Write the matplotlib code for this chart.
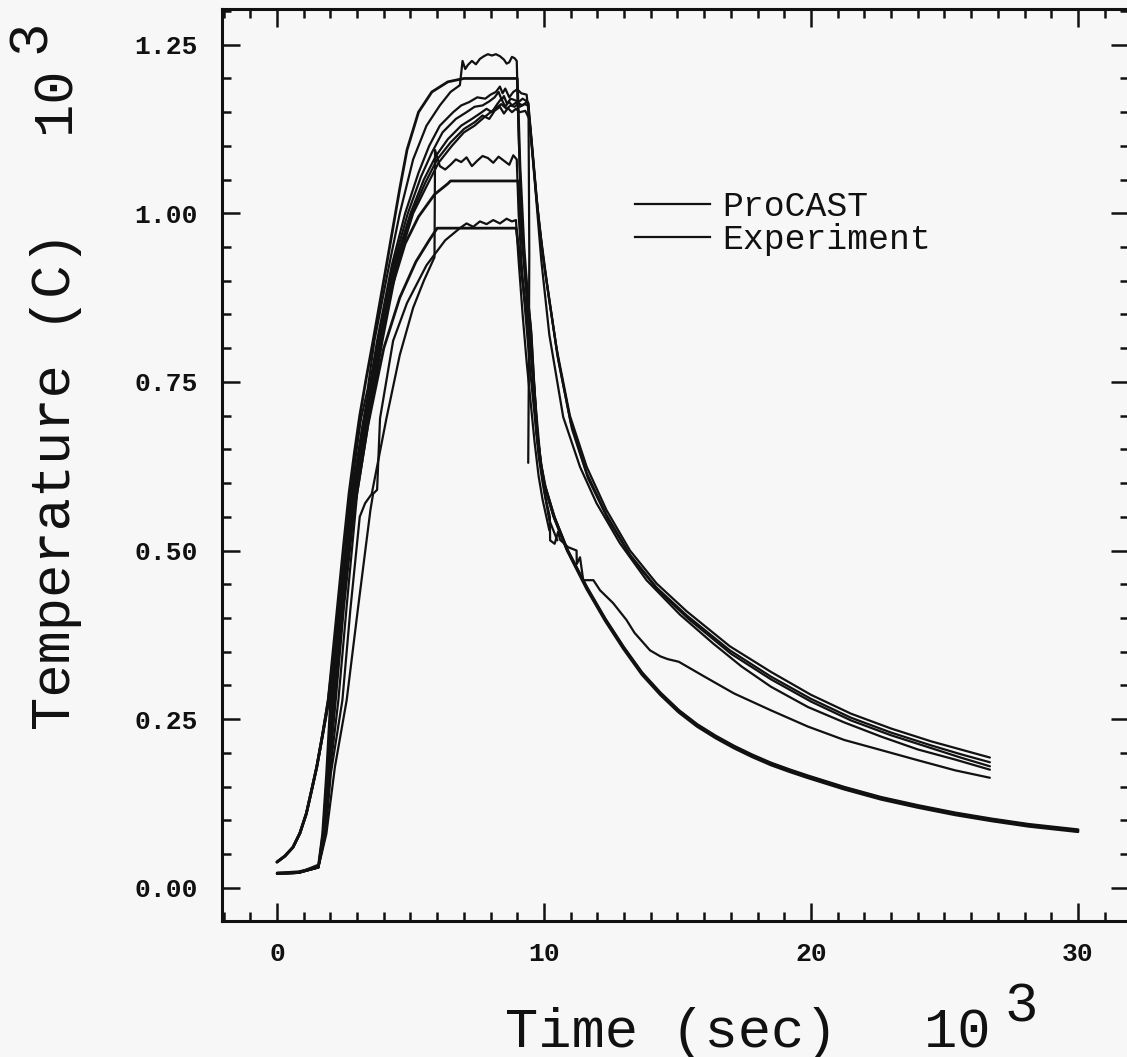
import matplotlib
matplotlib.use("Agg")
import matplotlib.pyplot as plt
from matplotlib.ticker import MultipleLocator, FixedLocator
from matplotlib.lines import Line2D

# ---------------- data: time in 10^3 s, temperature in 10^3 C ----------------
# common cooling tail read off the fast (ProCAST) curve
fast_tail_t = [10.85, 11.6, 12.29, 12.98, 13.67, 14.36, 15.05, 15.74, 16.43, 17.12, 17.8, 18.5, 19.2, 19.88,
               21.25, 22.63, 24.0, 25.4, 26.77, 28.15, 30.0]
fast_tail_v = [0.503, 0.445, 0.398, 0.356, 0.318, 0.288, 0.262, 0.241, 0.224, 0.209, 0.196, 0.184, 0.174, 0.165,
               0.148, 0.133, 0.121, 0.110, 0.101, 0.093, 0.085]

# ProCAST (smooth) curves
sim_top_t = [0, 0.3, 0.6, 0.86, 1.1, 1.3, 1.49, 1.7, 1.92, 2.1, 2.3, 2.5, 2.7, 2.9, 3.1, 3.35, 3.6, 3.85, 4.1,
             4.35, 4.6, 4.87, 5.3, 5.8, 6.4, 7.0, 9.0, 9.1, 9.25, 9.4, 9.5, 9.6, 9.72, 9.85, 10.0, 10.35] + fast_tail_t
sim_top_v = [0.038, 0.047, 0.06, 0.081, 0.11, 0.145, 0.179, 0.225, 0.278, 0.35, 0.43, 0.51, 0.585, 0.645, 0.70,
             0.757, 0.811, 0.867, 0.923, 0.98, 1.037, 1.094, 1.15, 1.18, 1.195, 1.2, 1.2, 1.07, 0.95, 0.87, 0.83,
             0.76, 0.68, 0.635, 0.60, 0.553] + fast_tail_v

sim_mid_t = [0, 0.3, 0.6, 0.86, 1.1, 1.3, 1.49, 1.7, 1.92, 2.12, 2.35, 2.55, 2.8, 3.2, 3.75, 4.3, 4.8, 5.3, 5.9,
             6.4, 6.5, 9.03, 9.12, 9.27, 9.42, 9.52, 9.62, 9.74, 9.87, 10.02, 10.37, 10.87, 11.6, 12.29, 12.98,
             13.67, 14.36, 15.05, 15.74, 16.43, 17.12, 17.8, 18.5, 19.2, 19.88, 21.25, 22.63, 24.0, 25.4, 26.77,
             28.15, 30.0]
sim_mid_v = [0.038, 0.047, 0.06, 0.081, 0.11, 0.145, 0.179, 0.225, 0.278, 0.345, 0.42, 0.49, 0.57, 0.68, 0.80,
             0.89, 0.955, 0.995, 1.028, 1.044, 1.048, 1.048, 0.99, 0.92, 0.86, 0.82, 0.75, 0.675, 0.63, 0.597,
             0.55, 0.50, 0.443, 0.396, 0.354, 0.316, 0.286, 0.260, 0.239, 0.222, 0.207, 0.194, 0.182, 0.172,
             0.163, 0.146, 0.131, 0.119, 0.108, 0.099, 0.091, 0.083]

sim_low_t = [0, 0.3, 0.6, 0.86, 1.1, 1.3, 1.49, 1.7, 1.95, 2.15, 2.35, 2.6, 2.95, 3.4, 4.0, 4.6, 5.2, 5.7, 6.0,
             8.96, 9.05, 9.2, 9.35, 9.5, 9.62, 9.75, 9.9, 10.05, 10.4, 10.9, 11.6, 12.29, 12.98, 13.67, 14.36,
             15.05, 15.74, 16.43, 17.12, 17.8, 18.5, 19.2, 19.88, 21.25, 22.63, 24.0, 25.4, 26.77, 28.15, 30.0]
sim_low_v = [0.038, 0.047, 0.06, 0.081, 0.11, 0.145, 0.179, 0.225, 0.278, 0.34, 0.405, 0.48, 0.575, 0.685,
             0.80, 0.875, 0.928, 0.96, 0.978, 0.978, 0.95, 0.90, 0.85, 0.80, 0.74, 0.67, 0.625, 0.594, 0.548,
             0.499, 0.446, 0.399, 0.357, 0.319, 0.289, 0.263, 0.242, 0.225, 0.210, 0.197, 0.185, 0.175, 0.166,
             0.149, 0.134, 0.122, 0.111, 0.102, 0.094, 0.086]

# Experiment (measured) curves
exp_a_t = [0, 0.8, 1.55, 1.7, 1.85, 2.0, 2.3, 2.5, 2.75, 3.15, 3.4, 3.65, 4.2, 4.6, 5.1, 5.6, 6.1, 6.5, 6.85,
           6.95, 7.05, 7.15, 7.3, 7.45, 7.6, 7.75, 7.9, 8.05, 8.2, 8.35, 8.5, 8.6, 8.7, 8.8, 8.9, 8.98, 9.05,
           9.15, 9.3, 9.45, 9.6, 9.7, 9.8, 9.9, 10.05, 10.22, 10.23, 10.4, 10.53, 10.6, 10.9, 11.22,
           11.23, 11.35, 11.47, 11.85, 12.1, 12.59, 13.09, 13.39, 13.97, 14.36, 14.63, 15.05, 16.01, 17.12,
           18.5, 19.88, 21.25, 22.63, 24.0, 25.4, 26.7]
exp_a_v = [0.021, 0.022, 0.034, 0.08, 0.17, 0.278, 0.413, 0.48, 0.584, 0.696, 0.74, 0.811, 0.923, 1.0, 1.08,
           1.13, 1.16, 1.18, 1.19, 1.226, 1.214, 1.22, 1.226, 1.221, 1.229, 1.233, 1.236, 1.234, 1.236, 1.233,
           1.228, 1.222, 1.224, 1.232, 1.23, 1.226, 1.12, 1.0, 0.9, 0.83, 0.76, 0.71, 0.665, 0.62, 0.58,
           0.55, 0.515, 0.51, 0.528, 0.516, 0.505, 0.50, 0.48, 0.49, 0.456, 0.456, 0.441, 0.422, 0.397, 0.378,
           0.352, 0.343, 0.339, 0.335, 0.313, 0.288, 0.263, 0.239, 0.219, 0.204, 0.189, 0.174, 0.163]

exp_b_t = [0, 0.8, 1.55, 1.72, 1.88, 2.05, 2.35, 2.8, 3.25, 3.5, 3.75, 4.3, 4.8, 5.3, 5.7, 6.1, 6.6, 6.9, 7.2,
           7.5, 7.8, 8.0, 8.2, 8.35, 8.45, 8.55, 8.7, 8.85, 9.0, 9.15, 9.35, 9.5, 9.7, 9.9, 10.1, 10.47, 10.97,
           11.6, 12.34, 13.22, 14.22, 15.34, 16.96, 18.5, 20.0, 21.5, 23.0, 24.5, 25.6, 26.7]
exp_b_v = [0.022, 0.023, 0.032, 0.08, 0.17, 0.278, 0.413, 0.584, 0.696, 0.75, 0.811, 0.923, 1.0, 1.06, 1.1, 1.13,
           1.15, 1.16, 1.165, 1.172, 1.17, 1.176, 1.18, 1.188, 1.178, 1.185, 1.172, 1.18, 1.184, 1.178, 1.176,
           1.12, 1.03, 0.96, 0.90, 0.80, 0.70, 0.624, 0.56, 0.50, 0.451, 0.41, 0.358, 0.32, 0.286, 0.258,
           0.236, 0.217, 0.205, 0.193]

exp_c_t = [0, 0.8, 1.55, 1.74, 1.9, 2.1, 2.4, 2.85, 3.3, 3.8, 4.35, 4.9, 5.4, 5.8, 6.2, 6.7, 7.1, 7.4, 7.7, 7.95,
           8.15, 8.3, 8.42, 8.5, 8.62, 8.75, 8.9, 9.05, 9.2, 9.4, 9.55, 9.75, 9.95, 10.15, 10.5, 11.0, 11.6,
           12.34, 13.22, 14.22, 15.34, 16.96, 18.5, 20.0, 21.5, 23.0, 24.5, 25.6, 26.7]
exp_c_v = [0.022, 0.024, 0.03, 0.08, 0.17, 0.278, 0.413, 0.584, 0.696, 0.811, 0.923, 1.0, 1.055, 1.09, 1.12,
           1.14, 1.15, 1.158, 1.16, 1.166, 1.172, 1.18, 1.168, 1.174, 1.162, 1.17, 1.168, 1.165, 1.17, 1.165,
           1.10, 1.01, 0.94, 0.885, 0.79, 0.69, 0.615, 0.553, 0.494, 0.445, 0.404, 0.352, 0.313, 0.280, 0.252,
           0.23, 0.211, 0.198, 0.186]

exp_d_t = [0, 0.8, 1.55, 1.76, 1.93, 2.15, 2.45, 2.9, 3.35, 3.85, 4.4, 5.0, 5.5, 5.95, 6.4, 6.9, 7.3, 7.6,
           7.85, 8.05, 8.25, 8.4, 8.55, 8.68, 8.8, 8.95, 9.1, 9.25, 9.42, 9.6, 9.8, 10.0, 10.2, 10.55, 11.05,
           11.65, 12.4, 13.3, 14.3, 15.4, 17.0, 18.5, 20.0, 21.5, 23.0, 24.5, 25.6, 26.7]
exp_d_v = [0.021, 0.022, 0.03, 0.08, 0.17, 0.278, 0.413, 0.584, 0.696, 0.811, 0.923, 1.0, 1.05, 1.085, 1.11,
           1.13, 1.14, 1.148, 1.155, 1.15, 1.162, 1.17, 1.158, 1.166, 1.16, 1.164, 1.158, 1.162, 1.16, 1.08,
           0.99, 0.925, 0.87, 0.78, 0.68, 0.607, 0.546, 0.488, 0.44, 0.399, 0.347, 0.309, 0.276, 0.248, 0.226,
           0.207, 0.193, 0.180]

exp_h_t = [0, 0.8, 1.55, 1.78, 1.95, 2.2, 2.5, 2.95, 3.4, 3.9, 4.45, 5.05, 5.55, 6.0, 6.5, 7.0, 7.4, 7.7, 7.95,
           8.15, 8.35, 8.5, 8.65, 8.8, 8.95, 9.1, 9.3, 9.45, 9.65, 9.9, 10.2, 10.72, 11.35, 11.97, 12.84, 13.84,
           15.09, 16.34, 17.4, 18.5, 19.88, 21.25, 22.63, 24.0, 25.4, 26.7]
exp_h_v = [0.021, 0.022, 0.031, 0.08, 0.17, 0.278, 0.413, 0.584, 0.696, 0.811, 0.923, 1.0, 1.045, 1.08, 1.105,
           1.125, 1.135, 1.145, 1.14, 1.152, 1.158, 1.148, 1.156, 1.15, 1.155, 1.15, 1.152, 1.14, 1.05, 0.93,
           0.82, 0.698, 0.624, 0.57, 0.511, 0.456, 0.405, 0.362, 0.328, 0.298, 0.268, 0.245, 0.224, 0.205,
           0.19, 0.175]

exp_e_t = [0, 0.8, 1.55, 1.8, 1.98, 2.3, 2.6, 3.0, 3.45, 3.95, 4.5, 5.1, 5.6, 6.05, 6.55, 7.0, 7.4, 7.75, 8.0,
           8.2, 8.4, 8.6, 8.75, 8.9, 9.05, 9.2, 9.35, 9.42, 9.45, 9.43, 9.41]
exp_e_v = [0.021, 0.022, 0.03, 0.08, 0.17, 0.278, 0.413, 0.584, 0.696, 0.811, 0.923, 1.0, 1.04, 1.075, 1.1,
           1.12, 1.13, 1.142, 1.15, 1.156, 1.162, 1.155, 1.16, 1.158, 1.163, 1.16, 1.165, 1.163, 0.94, 0.75,
           0.63]

exp_f_t = [0, 0.8, 1.55, 1.82, 2.02, 2.45, 2.75, 3.1, 3.3, 3.55, 4.1, 4.6, 5.1, 5.5, 5.9, 5.92, 6.1, 6.3, 6.5,
           6.7, 6.9, 7.1, 7.3, 7.5, 7.7, 7.9, 8.1, 8.3, 8.5, 8.7, 8.85, 8.98, 9.05, 9.2, 9.35, 9.5, 9.65, 9.8,
           9.95, 10.2, 10.5]
exp_f_v = [0.021, 0.022, 0.03, 0.08, 0.17, 0.278, 0.413, 0.55, 0.57, 0.584, 0.696, 0.79, 0.86, 0.9, 0.935,
           1.094, 1.07, 1.065, 1.072, 1.08, 1.076, 1.083, 1.07, 1.078, 1.085, 1.082, 1.075, 1.084, 1.078,
           1.072, 1.086, 1.08, 1.0, 0.9, 0.83, 0.76, 0.7, 0.64, 0.6, 0.545, 0.515]

exp_g_t = [0, 0.8, 1.55, 1.85, 2.17, 2.61, 3.03, 3.5, 3.6, 3.75, 3.86, 4.35, 4.87, 5.6, 6.3, 6.85, 7.1, 7.35,
           7.6, 7.85, 8.1, 8.35, 8.6, 8.8, 8.95, 9.05, 9.2, 9.35, 9.5, 9.65, 9.8, 9.95, 10.2]
exp_g_v = [0.021, 0.022, 0.03, 0.08, 0.179, 0.278, 0.413, 0.56, 0.584, 0.59, 0.696, 0.811, 0.867, 0.923, 0.96,
           0.978, 0.985, 0.98, 0.988, 0.984, 0.99, 0.985, 0.992, 0.988, 0.99, 0.93, 0.85, 0.78, 0.72, 0.66,
           0.61, 0.575, 0.53]

sim_series = [(sim_top_t, sim_top_v), (sim_mid_t, sim_mid_v), (sim_low_t, sim_low_v)]
exp_series = [(exp_a_t, exp_a_v), (exp_b_t, exp_b_v), (exp_c_t, exp_c_v), (exp_d_t, exp_d_v),
              (exp_h_t, exp_h_v), (exp_e_t, exp_e_v), (exp_f_t, exp_f_v), (exp_g_t, exp_g_v)]

legend_labels = ["ProCAST", "Experiment"]
x_ticks = [0, 10, 20, 30]
x_tick_labels = ["0", "10", "20", "30"]
y_ticks = [0.0, 0.25, 0.5, 0.75, 1.0, 1.25]
y_tick_labels = ["0.00", "0.25", "0.50", "0.75", "1.00", "1.25"]

# ---------------- figure ----------------
W, H = 1127, 1057
BG = "#f7f7f7"
INK = "#111111"
fig = plt.figure(figsize=(W / 100, H / 100), dpi=100, facecolor=BG)

left_px, right_px, top_px, bottom_px = 221.7, 1129.0, 9.0, 921.0
ax = fig.add_axes([left_px / W, 1 - bottom_px / H, (right_px - left_px) / W, (bottom_px - top_px) / H])
ax.set_facecolor(BG)

for t, v in exp_series:
    ax.plot(t, v, color=INK, lw=1.6, solid_joinstyle="round", solid_capstyle="round")
for t, v in sim_series:
    ax.plot(t, v, color=INK, lw=2.0, solid_joinstyle="round", solid_capstyle="round")

ax.set_xlim(-2.07, 31.91)
ax.set_ylim(-0.0494, 1.303)

ax.xaxis.set_major_locator(FixedLocator(x_ticks))
ax.xaxis.set_minor_locator(MultipleLocator(1))
ax.yaxis.set_major_locator(FixedLocator(y_ticks))
ax.yaxis.set_minor_locator(MultipleLocator(0.05))
ax.set_xticklabels(x_tick_labels)
ax.set_yticklabels(y_tick_labels)

ax.tick_params(which="both", direction="in", top=True, right=True, color=INK, width=1.8)
ax.tick_params(which="major", length=13)
ax.tick_params(which="minor", length=6.5)
ax.tick_params(axis="x", which="major", pad=15)
ax.tick_params(axis="y", which="major", pad=17)
for lab in ax.get_xticklabels() + ax.get_yticklabels():
    lab.set_fontfamily("Liberation Mono")
    lab.set_fontweight("bold")
    lab.set_fontsize(19)
    lab.set_color(INK)

for sp in ax.spines.values():
    sp.set_linewidth(2.2)
    sp.set_color(INK)

# axis labels (plotter style with exponent)
label_font = dict(family="Liberation Mono", size=40, color=INK)
fig.text(505 / W, 1 - 1047 / H, "Time (sec)", ha="left", va="baseline", **label_font)
fig.text(924 / W, 1 - 1047 / H, "10", ha="left", va="baseline", **label_font)
fig.text(1004 / W, 1 - 1022 / H, "3", ha="left", va="baseline", **label_font)

fig.text(70 / W, 1 - 730 / H, "Temperature (C)", rotation=90, rotation_mode="anchor",
         ha="left", va="baseline", **label_font)
fig.text(70 / W, 1 - 133 / H, "10", rotation=90, rotation_mode="anchor",
         ha="left", va="baseline", **label_font)
fig.text(45 / W, 1 - 53 / H, "3", rotation=90, rotation_mode="anchor",
         ha="left", va="baseline", **label_font)

handles = [Line2D([], [], color=INK, lw=1.6), Line2D([], [], color=INK, lw=1.6)]
leg = ax.legend(handles, legend_labels, loc="upper left",
                bbox_to_anchor=(635 / W, 1 - 190 / H), bbox_transform=fig.transFigure,
                frameon=False, prop=dict(family="Liberation Mono", size=25),
                handlelength=2.16, handletextpad=0.35, labelspacing=0.0, borderpad=0, borderaxespad=0)
for txt in leg.get_texts():
    txt.set_color(INK)

fig.savefig("out.png", dpi=100, facecolor=BG)
